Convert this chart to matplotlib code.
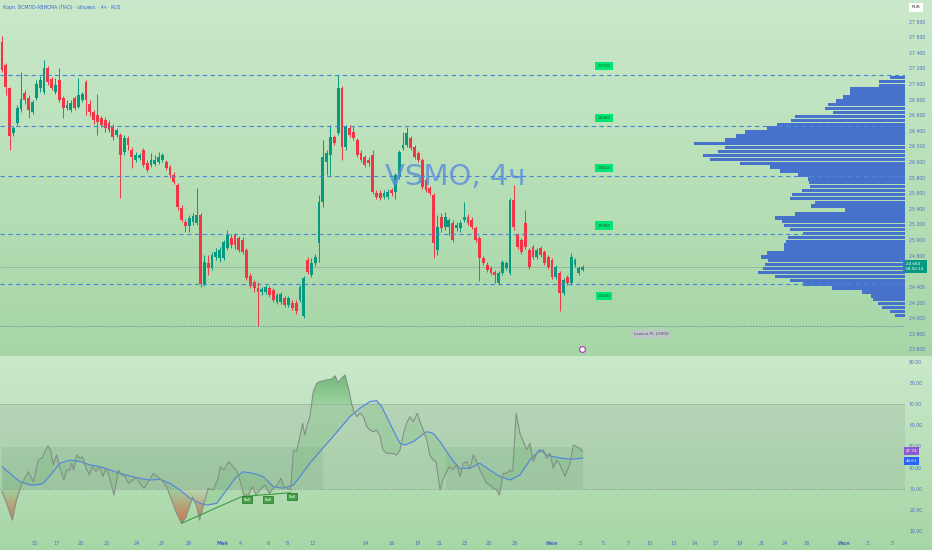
import numpy as np
import matplotlib
matplotlib.use("Agg")
import matplotlib.pyplot as plt
from matplotlib.patches import PathPatch
from matplotlib.path import Path
from matplotlib.transforms import blended_transform_factory as btf
import matplotlib.colors as mcolors

# ---------------- DATA ----------------
opens = [27540,27245,26950,26375,26500,26680,26885,26820,26640,26820,26950,26900,27205,27065,26900,27050,26820,26695,26670,26820,
         26705,26795,27025,26745,26640,26605,26565,26540,26500,26465,26345,26345,26130,26310,26155,26025,26050,26155,25990,25965,
         25975,26000,26025,26000,25935,25835,25705,25410,25230,25180,25235,25220,25320,24440,24705,24645,24785,24770,24770,24900,
         25025,25065,25025,25000,24875,24540,24465,24385,24335,24335,24385,24360,24205,24205,24260,24170,24195,24195,24230,24030,
         24745,24555,24705,24965,25490,26000,26090,26320,26375,26950,26195,26435,26385,26285,26115,26065,26025,26090,25605,25605,
         25555,25555,25640,25615,25810,26180,26220,26310,26195,26115,26025,25770,25670,25580,24875,25295,25170,25170,25220,25155,
         25155,25260,25295,25260,25155,25025,24770,24680,24645,24590,24450,24580,24645,24580,25515,25065,25000,25220,24875,24910,
         24785,24900,24845,24785,24745,24525,24580,24320,24525,24450,24680,24580,24620]
highs = [27615,27270,26960,26465,26730,27155,26925,26860,26795,27050,27105,27310,27230,27090,27080,27205,26845,26795,26795,26845,
         27080,26900,27050,26795,26670,26875,26590,26580,26540,26490,26435,26375,26345,26335,26195,26130,26115,26180,26025,26115,
         26090,26130,26115,26025,25965,25875,25730,25450,25270,25320,25345,25670,25345,24810,24810,24845,24900,24910,25000,25130,
         25080,25090,25050,25040,24900,24580,24490,24465,24400,24425,24410,24385,24320,24335,24285,24285,24230,24230,24425,24540,
         24785,24770,24820,25580,26285,26155,26475,26345,27115,26975,26475,26475,26465,26310,26155,26090,26065,26155,25640,25640,
         25640,25655,25670,25860,26155,26385,26450,26335,26220,26140,26050,25795,25695,25605,25320,25345,25360,25285,25260,25230,
         25260,25490,25335,25295,25180,25050,24795,24720,24670,24615,24605,24745,24730,25540,25705,25090,25025,25385,24900,24935,
         24900,24925,24875,24810,24770,24680,24605,24515,24555,24835,24770,24670,24680]
lows = [27155,26860,26155,26335,26475,26640,26745,26565,26615,26795,26900,26870,26990,26925,26870,26770,26565,26670,26640,26670,
        26695,26770,26605,26590,26490,26345,26450,26385,26385,26285,26320,25540,26090,26155,25925,26000,26025,25935,25875,25935,
        25950,25975,26000,25900,25795,25720,25385,25230,25105,25105,25195,25195,24400,24410,24555,24615,24745,24720,24745,24875,
        24900,24885,24845,24820,24490,24385,24335,23900,24295,24310,24270,24205,24180,24180,24140,24140,24105,24055,24205,24000,
        24565,24525,24670,24720,25425,25835,25835,26220,26345,26025,26155,26320,26285,26065,26000,25935,25950,25590,25525,25515,
        25525,25525,25565,25525,25785,26155,26195,26155,26040,26000,25655,25615,25580,24770,24810,25105,25130,25065,24975,25115,
        25105,25230,25195,25140,24975,24475,24680,24590,24555,24450,24425,24555,24615,24555,25130,24885,24820,24885,24630,24760,
        24760,24785,24680,24630,24500,24500,24090,24295,24425,24425,24655,24555,24600]
closes = [27180,26960,26335,26435,26695,26810,26795,26670,26770,27000,27050,27205,27025,26950,26990,26795,26695,26730,26755,26695,
          26860,26875,26795,26640,26540,26515,26475,26435,26410,26320,26410,26090,26310,26220,26065,26090,26090,25965,25900,26025,
          26025,26065,26090,25925,25835,25745,25425,25260,25180,25285,25310,25320,24440,24720,24645,24810,24845,24875,24975,25065,
          24935,24935,24875,24845,24515,24410,24385,24335,24375,24400,24295,24230,24295,24310,24170,24260,24130,24090,24400,24515,
          24590,24705,24785,25490,26065,26115,26320,26245,26950,26195,26450,26345,26310,26090,26025,25965,25990,25615,25555,25540,
          25605,25615,25605,25835,26130,26220,26375,26180,26065,26025,25680,25640,25605,24965,25170,25155,25295,25260,25000,25195,
          25220,25295,25220,25170,25000,24770,24705,24615,24580,24555,24580,24720,24705,25515,25170,24910,24845,24910,24655,24785,
          24875,24810,24705,24655,24525,24655,24320,24490,24450,24785,24745,24645,24660]

levels = [27120, 26460, 25820, 25080, 24440]
lowest_pl = 23900
last_price = 24660
last_time = "03:50:14"

# volume profile: rows of 50 RUB, from top row centre downwards
vp_top_centre = 27085
vp_row = 50
vp_vol = [45,77,77,165,165,185,207,230,240,215,330,343,385,415,480,507,540,632,540,562,
          605,585,495,405,375,320,290,287,285,310,340,345,270,283,180,330,390,370,362,345,
          305,350,358,362,364,415,432,412,420,425,440,390,345,305,220,128,103,95,80,70,45,30]

# RSI (bar index, value)
rsi_t = [0,1.2,2.7,3.8,5.2,6.9,8.2,9.5,10.6,12.0,12.7,13.4,14.3,15.2,16.2,16.9,17.8,18.2,18.8,19.5,20.4,21.1,22.0,22.9,23.7,
         24.6,25.5,26.4,27.2,28.1,29.3,30.5,31.3,32.2,33.1,34.2,35.3,36.1,37.2,38.3,39.6,40.7,41.8,43.1,44.4,45.7,47.0,48.2,49.2,
         49.9,51.0,51.7,52.9,54.0,55.3,56.4,57.2,58.1,59.3,60.6,61.6,62.5,63.3,64.5,65.6,66.5,67.5,68.8,70.0,71.0,72.1,73.0,73.8,
         74.7,75.6,76.3,77.1,78.0,78.7,79.3,79.9,80.6,81.5,82.4,83.2,84.1,85.0,86.3,87.2,88.0,88.9,89.8,90.7,91.5,92.1,92.9,93.7,
         94.6,95.5,96.3,97.2,98.1,99.0,99.7,100.7,101.6,102.4,103.3,104.2,105.1,105.9,106.8,107.7,108.7,109.6,110.3,111.2,112.0,
         112.9,113.6,114.7,115.4,116.2,117.1,118.0,119.0,119.9,120.8,121.6,122.5,123.4,124.3,125.1,126.0,126.9,127.7,128.6,129.5,
         130.2,131.2,132.1,133.0,133.7,134.6,135.6,136.5,137.4,138.2,139.1,140.0,140.8,141.7,142.6,143.5,144.3,145.2,146.1,147.4,
         148.7,149.6,150.5,151.3,152.0]
rsi_v = [28.7,23.2,15.3,24.8,32.6,38.1,33.4,43.6,44.9,50.3,48.4,41.3,46.0,39.7,34.2,38.9,38.9,42.1,38.9,46.0,44.4,45.2,39.7,36.6,40.5,
         38.1,40.5,35.8,39.7,35.8,27.1,38.9,36.6,35.8,32.6,34.2,35.5,32.6,30.3,33.4,37.3,35.8,34.2,31.1,24.8,18.5,13.8,16.9,22.4,
         26.3,21.6,15.3,23.2,30.3,29.5,34.2,40.5,38.9,42.9,40.5,38.1,32.6,27.1,27.1,31.1,27.1,29.5,31.9,27.9,30.3,31.9,35.0,31.1,
         30.3,29.5,48.4,47.6,54.7,60.9,55.4,60.2,64.1,75.9,79.8,80.6,80.9,81.4,81.7,83.3,80.1,82.2,83.7,77.5,70.4,66.4,64.1,65.7,
         64.1,59.4,57.8,57.0,57.8,54.7,48.4,46.8,46.8,46.8,46.0,48.4,56.2,60.9,64.1,61.7,65.7,60.9,57.8,53.1,46.0,
         43.6,42.9,29.5,34.2,37.3,40.5,38.9,41.3,35.8,42.1,42.9,39.7,46.0,42.9,38.9,35.8,32.6,31.9,30.3,29.5,
         27.1,37.3,37.3,38.9,38.1,65.7,56.2,52.3,48.4,51.5,42.9,46.8,47.6,48.4,44.4,46.8,39.7,43.6,41.3,35.8,
         42.1,50.7,49.9,49.1,47.74]
ma_t = [0,2.1,4.7,7.3,9.1,10.8,13.4,15.2,17.8,20.4,23.0,25.7,28.3,30.9,33.5,36.1,38.7,41.4,44.0,46.6,49.2,51.8,53.6,56.2,58.8,
        61.4,63.2,65.8,68.4,71.0,73.6,76.3,78.0,80.6,83.2,85.9,88.5,91.1,93.7,96.3,98.1,99.4,100.7,102.4,104.2,105.5,107.7,109.4,
        111.2,112.9,114.7,116.4,118.2,119.9,122.5,125.1,127.7,130.4,133.0,135.6,138.2,140.8,142.6,144.3,146.9,149.6,152.0]
ma_v = [40.5,37.3,33.4,31.9,31.9,32.6,38.1,42.1,43.6,42.9,41.3,40.5,38.9,37.3,36.1,35.0,34.2,34.5,32.6,29.5,25.6,23.2,22.4,23.2,29.5,
        35.8,38.1,37.3,35.8,31.1,30.3,31.9,35.8,42.1,47.6,53.1,58.6,64.1,68.0,71.2,71.6,68.8,64.1,57.8,51.5,50.7,52.3,54.7,
        57.0,56.2,52.3,47.6,42.9,39.7,39.7,42.1,38.9,35.8,34.2,36.6,43.6,48.4,46.0,45.2,44.4,44.0,44.61]

div_t = [47.0, 62.8, 75.4]
div_v = [13.8, 26.4, 28.2]
bull_t = [64.1, 69.6, 75.9]
bull_v = [25.0, 25.0, 26.4]

tick_pos = [8.6,14.4,20.7,27.5,35.3,41.9,49.0,57.6,62.3,69.6,74.6,81.4,95.3,102.1,108.9,114.7,121.2,127.5,134.3,
            144.0,151.3,157.3,163.9,169.6,175.7,181.2,186.9,193.2,199.0,205.0,210.7,220.4,226.4,233.0]
tick_lab = ['15','17','20','22','24','27','29','Май','4','6','8','12','14','16','19','21','23','26','28',
            'Июн','3','5','7','10','12','14','17','19','21','24','26','Июл','3','5']
months = {'Май', 'Июн', 'Июл'}

title = "Корп. ВСМПО-АВИСМА (ПАО) · объявл. · 4ч · RUS"
watermark = "VSMO, 4ч"

# ---------------- STYLE ----------------
GREEN = '#089981'
RED = '#f23645'
AXC = '#4a6dc4'
W, H = 932, 550
fig = plt.figure(figsize=(W / 100, H / 100), dpi=100)

# background gradients (two panes)
split = 356
img = np.zeros((H, 2, 3))
c_top = np.array([202, 233, 202]) / 255
c_bot = np.array([166, 214, 166]) / 255
t1 = np.linspace(0, 1, split)[:, None]
t2 = np.linspace(0, 1, H - split)[:, None]
img[:split] = (c_top + (c_bot - c_top) * t1)[:, None, :]
img[split:] = (c_top + (c_bot - c_top) * t2)[:, None, :]
bg = fig.add_axes([0, 0, 1, 1], zorder=-10)
bg.imshow(img, aspect='auto', extent=[0, 1, 0, 1], interpolation='bilinear')
bg.axis('off')

ax = fig.add_axes([0, 1 - 355 / H, 905 / W, 355 / H])
ax2 = fig.add_axes([0, 1 - 536 / H, 905 / W, (536 - 357) / H])
for a in (ax, ax2):
    a.patch.set_alpha(0)
    for s in a.spines.values():
        s.set_visible(False)

XL = (-0.52, 236.4)
YL = (23527, 28078)
RL = (7.8, 92.2)

# ---- candles ----
o = np.array(opens, float); h = np.array(highs, float); l = np.array(lows, float); c = np.array(closes, float)
n = min(len(o), len(h), len(l), len(c))
o, h, l, c = o[:n], h[:n], l[:n], c[:n]
idx = np.arange(n)
cols = np.where(c >= o, GREEN, RED)
ax.vlines(idx, l, h, colors=cols, lw=0.7, zorder=3)
ax.bar(idx, np.maximum(np.abs(c - o), 10), bottom=np.minimum(o, c), width=0.74,
       color=cols, linewidth=0, zorder=4)

# current price line
ax.axhline(last_price, color='#8fae96', lw=0.5, zorder=2)

# ---- volume profile ----
axv = ax.twiny()
axv.patch.set_alpha(0)
for s in axv.spines.values():
    s.set_visible(False)
vp_prices = vp_top_centre - vp_row * np.arange(len(vp_vol))
axv.barh(vp_prices, vp_vol, height=vp_row * 0.86, color='#4672cc', linewidth=0, zorder=2)
axv.set_xlim(905 * 3, 0)
axv.set_xticks([])

# levels
for lv in levels:
    axv.axhline(lv, color='#4a86d6', lw=0.8, ls=(0, (4, 3)), zorder=5)
axv.axhline(lowest_pl, color='#6f8fb0', lw=0.7, ls=(0, (1.5, 1.5)), zorder=5)

lab_x = 157.6
for lv in levels:
    off = -9 if lv == min(levels) else 6
    ax.annotate(f"{lv}", xy=(lab_x, lv), xytext=(0, off), textcoords='offset points',
                ha='center', va='center', fontsize=3, color='#1b5e20', zorder=8,
                bbox=dict(boxstyle='square,pad=0.5', fc='#00e676', ec='none'))
ax.annotate(f"Lowest PL {lowest_pl}", xy=(169.9, lowest_pl), xytext=(0, -6), textcoords='offset points',
            ha='center', va='center', fontsize=3, color='#4a4f55', zorder=8,
            bbox=dict(boxstyle='square,pad=0.5', fc='#c0c6cb', ec='none'))

# event marker
ax.plot([151.8], [0.017], marker='o', ms=4.2, mfc='white', mec='#ab47bc', mew=0.9,
        transform=btf(ax.transData, ax.transAxes), zorder=8, clip_on=False)

# watermark
ax.text(0.503, 0.50, watermark, transform=ax.transAxes, ha='center', va='center',
        fontsize=21, color='#5a8be0', alpha=0.8, zorder=6)

# price axis
ax.yaxis.tick_right()
pt = list(range(23600, 27801, 200))
ax.set_yticks(pt)
ax.set_yticklabels([f"{v:,}".replace(",", " ") for v in pt])
ax.tick_params(axis='y', length=0, pad=3, labelsize=3.3, labelcolor=AXC)
ax.set_xticks([])
ax.set_xlim(*XL)
ax.set_ylim(*YL)
axv.set_ylim(*YL)

ax.text(1.001, last_price, f"{last_price:,}".replace(",", " ") + "\n" + last_time,
        transform=btf(ax.transAxes, ax.transData), ha='left', va='center', fontsize=3,
        color='white', linespacing=1.1, zorder=9, clip_on=False,
        bbox=dict(boxstyle='square,pad=0.6', fc=GREEN, ec='none'))

# ---- RSI pane ----
rt = np.array(rsi_t); rv = np.array(rsi_v)
mt = np.array(ma_t); mv = np.array(ma_v)

ax2.axhspan(30, 70, color='#7d8a86', alpha=0.16, lw=0, zorder=1)
ma_on_rsi = np.interp(rt, mt, mv)
ax2.fill_between(rt, 30, 50, where=ma_on_rsi < 50, color='#3f7a4f', alpha=0.10, lw=0, zorder=1)
ax2.axhline(70, color='#80868a', lw=0.5, ls=(0, (2, 2)), zorder=2)
ax2.axhline(30, color='#80868a', lw=0.5, ls=(0, (2, 2)), zorder=2)
ax2.fill_between(rt, rv, ma_on_rsi, color='#43a84d', alpha=0.15, lw=0, zorder=2)


def grad_fill(a, x, y, base, far, color, a_near, a_far, z):
    coll = a.fill_between(x, y, base, where=(y > base) if far > base else (y < base),
                          interpolate=True, facecolor='none', edgecolor='none')
    paths = coll.get_paths()
    if not paths:
        return
    p = Path.make_compound_path(*paths)
    patch = PathPatch(p, transform=a.transData, facecolor='none', edgecolor='none')
    a.add_patch(patch)
    nn = 256
    g = np.zeros((nn, 1, 4))
    g[..., :3] = mcolors.to_rgb(color)
    g[:, 0, 3] = np.linspace(a_near, a_far, nn)
    lo, hi = sorted([base, far])
    if far < base:
        g = g[::-1]
    im = a.imshow(g, extent=[x.min(), x.max(), lo, hi], origin='lower', aspect='auto',
                  zorder=z, interpolation='bilinear')
    im.set_clip_path(patch)


grad_fill(ax2, rt, rv, 70, 86, '#3e9b45', 0.15, 0.6, 3)
grad_fill(ax2, rt, rv, 30, 12, '#e0563c', 0.0, 0.85, 3)

ax2.plot(mt, mv, color='#5082e2', lw=0.8, zorder=4)
ax2.plot(rt, rv, color='#829087', lw=0.8, zorder=5)

ax2.plot(div_t, div_v, color='#3e9a42', lw=0.8, zorder=6)
for bt, bv in zip(bull_t, bull_v):
    ax2.text(bt, bv, "Bull", ha='center', va='center', fontsize=2.8, color='white', zorder=7,
             bbox=dict(boxstyle='square,pad=0.35', fc='#43a047', ec='#2e7d32', lw=0.6))

ax2.yaxis.tick_right()
rtk = list(range(10, 91, 10))
ax2.set_yticks(rtk)
ax2.set_yticklabels([f"{v:.2f}" for v in rtk])
ax2.tick_params(axis='y', length=0, pad=3, labelsize=3.3, labelcolor=AXC)

ax2.set_xticks(tick_pos)
ax2.set_xticklabels(tick_lab)
ax2.tick_params(axis='x', length=0, pad=3.5, labelsize=3.5, labelcolor=AXC)
for t in ax2.get_xticklabels():
    if t.get_text() in months:
        t.set_fontweight('bold')

ax2.text(1.001, rsi_v[-1], f"{rsi_v[-1]:.2f}", transform=btf(ax2.transAxes, ax2.transData),
         ha='left', va='center', fontsize=3, color='white', zorder=9, clip_on=False,
         bbox=dict(boxstyle='square,pad=0.5', fc='#8e5ad0', ec='none'))
ax2.text(1.001, ma_v[-1] - 1.5, f"{ma_v[-1]:.2f}", transform=btf(ax2.transAxes, ax2.transData),
         ha='left', va='center', fontsize=3, color='white', zorder=9, clip_on=False,
         bbox=dict(boxstyle='square,pad=0.5', fc='#2962ff', ec='none'))

ax2.set_xlim(*XL)
ax2.set_ylim(*RL)

# title & currency
fig.text(0.003, 1 - 7 / H, title, fontsize=3.3, color='#3a6ad0', ha='left', va='center')
fig.text(916 / W, 1 - 7.5 / H, "RUB", fontsize=3, color='#333333', ha='center', va='center',
         bbox=dict(boxstyle='square,pad=0.6', fc='white', ec='none'))

fig.savefig("out.png", dpi=100)
